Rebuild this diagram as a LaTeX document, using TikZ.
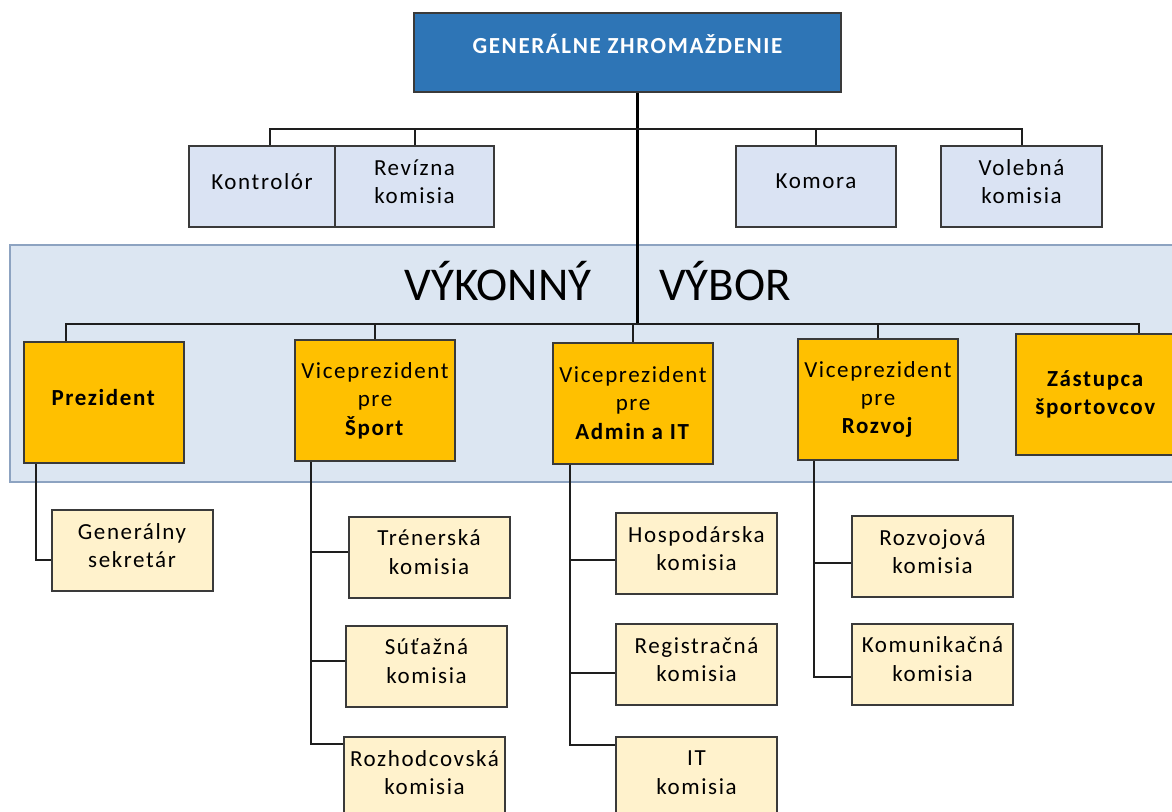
\documentclass[tikz,border=0pt]{standalone}
\usepackage{fontspec}
\setmainfont[LetterSpace=7]{Carlito}
\newfontfamily\titlefont{Carlito}
\usetikzlibrary{positioning}

\definecolor{gzblue}{RGB}{46,117,182}
\definecolor{kblue}{RGB}{218,227,243}
\definecolor{vvfill}{RGB}{220,230,242}
\definecolor{vvline}{RGB}{141,163,193}
\definecolor{vporange}{RGB}{255,192,0}
\definecolor{kombeige}{RGB}{255,242,204}
\definecolor{boxline}{RGB}{58,58,58}
\definecolor{connline}{RGB}{30,30,30}

\tikzset{
	every node/.style={font=\fontsize{11.5}{14.2}\selectfont, align=center, inner sep=0pt},
	gzbox/.style={draw=boxline, line width=1pt, fill=gzblue, text=white, font=\bfseries\fontsize{11.5}{14}\selectfont, minimum width=213.5pt, minimum height=39.5pt, text height=7.4pt, text depth=6.5pt},
	kbox/.style={draw=boxline, line width=1pt, fill=kblue, minimum width=80pt, minimum height=40.5pt, text depth=5pt},
	vpbox/.style={draw=boxline, line width=1pt, fill=vporange, minimum width=80pt, minimum height=60.5pt},
	kombox/.style={draw=boxline, line width=1pt, fill=kombeige, minimum width=80.5pt, minimum height=40.5pt, text depth=5pt},
	vvband/.style={draw=vvline, line width=1pt, fill=vvfill},
	conn/.style={draw=connline, line width=1pt},
	trunk/.style={draw=black, line width=1.5pt}
}

\begin{document}
\begin{tikzpicture}[x=0.5pt,y=-0.5pt]
	\useasboundingbox (0,0) rectangle (1172,811);
	\draw[vvband] (10,245) rectangle (1190,482);
	\node (vvtitle) at (598,300)[anchor=base,font=\titlefont\fontsize{23.5}{28}\selectfont] {VÝKONNÝ\hspace{34pt}VÝBOR};

	\node (gz) at (627.5,52.5)[gzbox] {GENERÁLNE ZHROMAŽDENIE};
	\node (kontr) at (262,186.5)[kbox,minimum width=73pt] {Kontrolór};
	\node (reviz) at (414.5,186.5)[kbox,minimum width=79.5pt] {Revízna\\komisia};
	\node (komora) at (816,186.5)[kbox] {Komora};
	\node (voleb) at (1021.5,186.5)[kbox,minimum width=80.5pt] {Volebná\\komisia};

	\node (prez) at (104,402.5)[vpbox,text depth=5pt] {\textbf{Prezident}};
	\node (vsport) at (375,400.5)[vpbox] {Viceprezident\\pre\\\textbf{Šport}};
	\node (vadmin) at (633,403)[vpbox] {Viceprezident\\pre\\\textbf{Admin a IT}};
	\node (vrozvoj) at (878,399.5)[vpbox] {Viceprezident\\pre\\\textbf{Rozvoj}};
	\node (zastup) at (1096,394.5)[vpbox] {\textbf{Zástupca}\\\textbf{športovcov}};

	\node (gensek) at (132,550.5)[kombox] {Generálny\\sekretár};
	\node (trener) at (429,557)[kombox] {Trénerská\\komisia};
	\node (sutaz) at (426.5,666)[kombox] {Súťažná\\komisia};
	\node (rozhod) at (424.5,777.5)[kombox] {Rozhodcovská\\komisia};
	\node (hosp) at (696.5,553.5)[kombox] {Hospodárska\\komisia};
	\node (regist) at (696.5,664.5)[kombox] {Registračná\\komisia};
	\node (itkom) at (696.5,777.5)[kombox] {IT\\komisia};
	\node (rozvk) at (932.5,556.5)[kombox] {Rozvojová\\komisia};
	\node (komun) at (932.5,664)[kombox] {Komunikačná\\komisia};

	\coordinate (gzbar) at (637,129);
	\coordinate (vvbar) at (637,324);
	\draw[trunk] (gz.south -| gzbar) -- (vvbar);
	\draw[conn] ([xshift=4pt]kontr.north) |- (gzbar) -| (voleb.north);
	\draw[conn] (reviz.north) -- (reviz.north |- gzbar);
	\draw[conn] (komora.north) -- (komora.north |- gzbar);

	\draw[conn] ([xshift=-19pt]prez.north) |- (vvbar) -| ([xshift=21.5pt]zastup.north);
	\foreach \v in {vsport,vadmin,vrozvoj}
		\draw[conn] (\v.north) -- (\v.north |- vvbar);

	\draw[conn] ([xshift=-34pt]prez.south) |- ([yshift=-4.75pt]gensek.west);
	\foreach \k/\s in {trener/2.5,sutaz/2.5,rozhod/16.75}
		\draw[conn] ([xshift=-32pt]vsport.south) |- ([yshift=\s pt]\k.west);
	\foreach \k/\s in {hosp/-3.25,regist/-4.25,itkom/16.25}
		\draw[conn] ([xshift=-31.5pt]vadmin.south) |- ([yshift=\s pt]\k.west);
	\foreach \k/\s in {rozvk/-3.25,komun/-6.5}
		\draw[conn] ([xshift=-32pt]vrozvoj.south) |- ([yshift=\s pt]\k.west);
\end{tikzpicture}
\end{document}
